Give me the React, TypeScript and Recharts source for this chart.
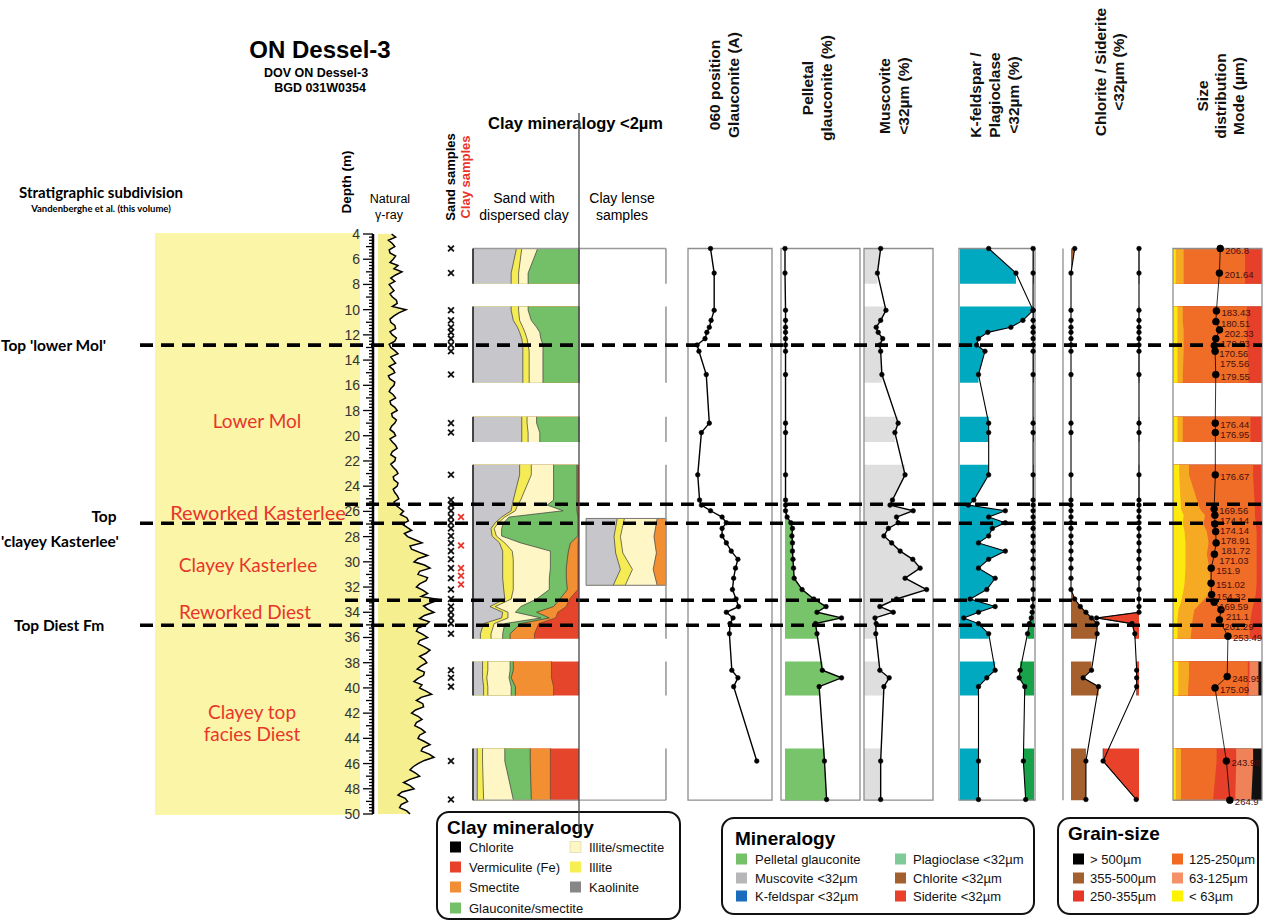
import React from 'react';
import { ComposedChart, Area, Line, XAxis, YAxis, ReferenceLine, ReferenceArea, Scatter, LabelList } from 'recharts';

const FONT = "'Liberation Sans', Arial, Helvetica, sans-serif";
const CAL = "Lato, 'Open Sans', 'Liberation Sans', sans-serif";

// ================= DATA =================
const SEGMENTS: [number, number][] = [[5.15, 7.95], [9.75, 15.8], [18.5, 20.5], [22.3, 36.1], [37.9, 40.6], [44.8, 48.9]];
const MAJOR_TOPS = [12.81, 26.94, 35.03];
const REWORKED_TOPS = [25.43, 33.05];

const SAND_DEPTHS = [5.15, 7.1, 10.05, 10.85, 11.4, 11.8, 12.3, 12.8, 13.3, 15.15, 19.0, 19.75, 23.1, 25.1, 25.5, 25.95, 26.45, 26.9, 27.35, 27.95, 28.5, 29.15, 29.8, 30.5, 31.3, 32.2, 32.95, 33.55, 34.0, 34.45, 34.9, 35.7, 38.6, 39.2, 39.9, 45.8, 48.85];
const CLAY_SAMPLE_DEPTHS = [26.45, 28.7, 30.5, 31.1, 31.8];

// Clay mineralogy <2µm (sand with dispersed clay), cumulative %
const CUM_KAOLINITE = [41, 36, 36, 38, 42, 44, 46, 47, 47, 47, 46, 46, 44, 38, 37, 36, 27, 21, 17, 18, 25, 28, 28, 28, 28, 29, 30, 16, 28, 27, 10, 7, 9, 9, 10, 4, 4];
const CUM_ILLITE = [46, 43, 43, 44, 47, 49, 51, 52, 53, 53, 51, 52, 55, 45, 42, 40, 30, 24, 20, 22, 30, 37, 38, 38, 38, 38, 36, 21, 33, 33, 20, 17, 14, 13, 14, 9, 10];
const CUM_ILLITE_SMECTITE = [61, 52, 52, 55, 60, 63, 64, 66, 66, 66, 60, 63, 76, 76, 70, 85, 34, 29, 27, 27, 45, 73, 73, 73, 72, 72, 60, 45, 40, 64, 30, 28, 35, 34, 36, 30, 38];
const CUM_GLAUC_SMECTITE = [100, 100, 100, 100, 100, 100, 100, 100, 100, 100, 100, 100, 98, 98, 98, 98, 99, 99, 99, 99, 92, 90, 89, 88, 88, 89, 82, 76, 60, 72, 45, 35, 38, 36, 40, 54, 55];
const CUM_SMECTITE = [100, 100, 100, 100, 100, 100, 100, 100, 100, 100, 100, 100, 99, 99, 99, 99, 99.5, 99.5, 99.5, 99.5, 99, 99, 99, 99, 99, 99, 91, 88, 80, 78, 62, 58, 74, 74, 76, 73, 73];
const CUM_TOTAL = [100, 100, 100, 100, 100, 100, 100, 100, 100, 100, 100, 100, 100, 100, 100, 100, 100, 100, 100, 100, 100, 100, 100, 100, 100, 100, 100, 100, 100, 100, 100, 100, 100, 100, 100, 100, 100];

// Clay lense samples, cumulative %
const LENS_DEPTHS = [26.56, 28.0, 29.3, 30.6, 31.86];
const LENS_KAOLINITE = [39, 35, 37, 43, 34];
const LENS_ILLITE = [48, 43, 46, 58, 49];
const LENS_ILLITE_SMECTITE = [89, 85, 88, 84, 89];
const LENS_TOTAL = [100, 100, 100, 100, 100];

// 060 position glauconite (Å)
const POS_060 = [1.5130, 1.5136, 1.5136, 1.5131, 1.5128, 1.5124, 1.5121, 1.5108, 1.5111, 1.5123, 1.5128, 1.5115, 1.5109, 1.5112, 1.5115, 1.5130, 1.5149, 1.5156, 1.5149, 1.5149, 1.5156, 1.5164, 1.5175, 1.5171, 1.5168, 1.5166, 1.5172, 1.5176, 1.5156, 1.5167, 1.5162, 1.5161, 1.5165, 1.5175, 1.5168, 1.5206, null];
// Pelletal glauconite (%)
const PELLETAL = [0, 0, 0.5, 0.5, 0.5, 0.5, 0.5, 0.5, 0.5, 0.5, 0.5, 0.5, 0.5, 0.5, 0.5, 0.5, 2, 5.5, 7, 6.5, 7, 7, 7.5, 8, 8.6, 16, 27, 38.5, 30, 53, 28.6, 30, 35, 53, 32, 37, 39];
// Muscovite <32µm (%)
const MUSCOVITE = [4.1, 3.3, 5.4, 4.1, 3.0, 3.5, 4.6, 3.9, 4.1, 4.4, 8.4, 7.6, 10.1, 7.0, 6.4, 12.1, 8.0, 8.4, 6.0, 4.9, 6.8, 8.9, 12.0, 13.8, 10.1, 15.4, 8.0, 3.9, 7.2, 2.7, 3.0, 2.9, 3.9, 6.2, 4.9, 4.1, 4.1];
// K-feldspar & plagioclase <32µm (%)
const KFELDSPAR = [3.1, 6.05, 7.9, 6.8, 5.5, 3.0, 2.0, 1.8, 2.7, 2.0, 3.1, 3.1, 3.1, 1.5, 0.9, 4.9, 3.1, 4.9, 3.5, 3.1, 2.0, 4.9, 3.1, 2.0, 3.8, 2.9, 1.1, 3.8, 2.0, 0.4, 2.0, 3.1, 3.8, 2.9, 2.0, 2.0, 2.0];
const PLAGIOCLASE = [0.1, 0.1, 0.1, 0.1, 0.1, 0.1, 0.1, 0.1, 0.1, 0.1, 0.1, 0.1, 0.1, 0.1, 0.1, 0.1, 0.1, 0.1, 0.1, 0.1, 0.1, 0.1, 0.1, 0.1, 0.1, 0.1, 0.1, 0.15, 0.2, 0.3, 0.5, 0.7, 1.5, 1.6, 1.0, 1.15, 0.9];
// Chlorite & siderite <32µm (%)
const CHLORITE = [0.8, 0, 0, 0, 0, 0, 0, 0, 0, 0, 0, 0, 0, 0, 0, 0, 0, 0, 0, 0, 0, 0, 0, 0, 0, 0, 0.8, 2.0, 3.2, 4.4, 5.6, 5.6, 4.4, 2.6, 5.9, 3.2, 3.2];
const SIDERITE = [0, 0, 0, 0, 0, 0, 0, 0, 0, 0, 0, 0, 0, 0, 0, 0, 0, 0, 0, 0, 0, 0, 0, 0, 0, 0, 0, 0, 0, 9.1, 1.5, 0.9, 0.5, 0.5, 0.5, 7.7, 0.6];

// Size distribution
const SIZE_DEPTHS = [5.15, 7.1, 10.1, 10.95, 11.6, 12.3, 12.85, 13.3, 15.15, 19.0, 19.75, 23.1, 25.8, 26.3, 27.0, 27.6, 28.5, 29.4, 30.5, 31.7, 32.6, 33.2, 33.8, 34.6, 35.9, 39.1, 40.0, 45.8, 48.9];
const MODE_UM = [206.8, 201.64, 183.43, 180.51, 202.33, 179.83, 170.56, 175.56, 179.55, 176.44, 176.95, 176.67, 169.56, 174.14, 174.14, 178.91, 181.72, 171.03, 151.9, 151.02, 154.32, 169.59, 211.1, 201.29, 253.49, 248.95, 175.09, 243.98, 264.9];
const CUM_LT63 = [3, 3, 5, 5, 5, 5, 5, 5, 5, 5, 5, 7, 9, 12, 11, 13, 14, 14, 14, 13, 11, 9, 6, 5, 5, 6, 6, 3, 3];
const CUM_LT125 = [12, 12, 11, 11, 12, 12, 12, 12, 11, 11, 11, 18, 30, 36, 34, 38, 40, 38, 41, 42, 40, 32, 24, 22, 20, 18, 17, 9, 9];
const CUM_LT250 = [81, 81, 83, 83, 83, 83, 83, 84, 85, 87, 87, 90, 92, 92, 93, 94, 94, 94, 94, 94, 93, 91, 89, 87, 86, 84, 83, 49, 45];
const CUM_LT355 = [100, 100, 100, 100, 100, 100, 100, 100, 100, 100, 100, 100, 100, 100, 100, 100, 100, 100, 100, 100, 100, 100, 100, 100, 100, 86, 85, 71, 70];
const CUM_LT500 = [100, 100, 100, 100, 100, 100, 100, 100, 100, 100, 100, 100, 100, 100, 100, 100, 100, 100, 100, 100, 100, 100, 100, 100, 100, 96, 96, 90, 88];
const CUM_ALL = [100, 100, 100, 100, 100, 100, 100, 100, 100, 100, 100, 100, 100, 100, 100, 100, 100, 100, 100, 100, 100, 100, 100, 100, 100, 100, 100, 100, 100];

// Natural gamma-ray (API), every 0.25 m from 4 m to 50 m
const GAMMA_API = [
  17, 22, 13, 18, 21, 14, 15, 22,
  19, 15, 25, 20, 30, 22, 16, 21,
  14, 17, 20, 15, 18, 23, 24, 18,
  35, 26, 20, 15, 16, 21, 22, 15,
  18, 23, 21, 14, 16, 21, 25, 16,
  19, 22, 14, 19, 21, 13, 15, 21,
  20, 16, 14, 19, 22, 15, 16, 21,
  24, 17, 18, 23, 21, 17, 15, 20,
  22, 15, 18, 22, 24, 18, 16, 22,
  21, 16, 19, 23, 25, 19, 20, 25,
  24, 19, 21, 24, 26, 20, 22, 27,
  32, 28, 36, 38, 30, 36, 42, 33,
  37, 46, 55, 40, 42, 52, 62, 50,
  45, 58, 65, 52, 50, 62, 60, 52,
  48, 56, 62, 54, 77, 66, 57, 62,
  70, 58, 52, 64, 60, 50, 48, 56,
  62, 52, 50, 58, 65, 60, 52, 58,
  61, 54, 49, 58, 57, 50, 45, 55,
  52, 60, 67, 54, 48, 56, 57, 47,
  42, 50, 55, 48, 46, 54, 59, 52,
  50, 58, 65, 56, 54, 64, 70, 58,
  50, 44, 40, 47, 52, 40, 32, 40,
  45, 30, 25, 34, 37, 29, 27, 36,
  40,
];
const GAMMA_DEPTHS = GAMMA_API.map((_, i) => 4 + i * 0.25);

// Legends
const CLAY_LEGEND_LEFT = [['Chlorite', '#000000'], ['Vermiculite (Fe)', '#e8432a'], ['Smectite', '#f18d35']];
const CLAY_LEGEND_RIGHT = [['Illite/smectite', '#fff6c6'], ['Illite', '#f7ee52'], ['Kaolinite', '#878787']];
const MIN_LEGEND_LEFT = [['Pelletal glauconite', '#77c06a'], ['Muscovite <32µm', '#b7b7ba'], ['K-feldspar <32µm', '#1a6dbd']];
const MIN_LEGEND_RIGHT = [['Plagioclase <32µm', '#7fcb98'], ['Chlorite <32µm', '#a2602e'], ['Siderite <32µm', '#e8402a']];
const GRAIN_LEGEND_LEFT = [['> 500µm', '#000000'], ['355-500µm', '#a2602e'], ['250-355µm', '#e8352a']];
const GRAIN_LEGEND_RIGHT = [['125-250µm', '#f06a22'], ['63-125µm', '#f59068'], ['< 63µm', '#fff200']];

// ================= LAYOUT =================
const PAGE_W = 1264;
const PAGE_H = 922;
const PLOT_TOP = 234;
const PLOT_BOTTOM = 814;
const PX_PER_M = (PLOT_BOTTOM - PLOT_TOP) / 46;
const BOX_TOP = SEGMENTS[0][0];
const BOX_BOTTOM = SEGMENTS[SEGMENTS.length - 1][1];

type Row = { [k: string]: number | null };

function buildRows(depths: number[], series: Record<string, (number | null)[]>, segments: [number, number][]): Row[] {
  const rows: Row[] = [];
  const keys = Object.keys(series);
  let prevBottom: number | null = null;
  segments.forEach(([top, bottom]) => {
    const idx = depths.map((_, i) => i).filter((i) => depths[i] >= top - 0.02 && depths[i] <= bottom + 0.02);
    if (!idx.length) return;
    if (prevBottom !== null) {
      const gap: Row = { depth: (prevBottom + top) / 2 };
      keys.forEach((k) => { gap[k] = null; gap['e_' + k] = null; });
      rows.push(gap);
    }
    const edge = (d: number, i: number) => {
      const r: Row = { depth: d };
      keys.forEach((k) => { r[k] = null; r['e_' + k] = series[k][i]; });
      return r;
    };
    if (depths[idx[0]] > top + 0.02) rows.push(edge(top, idx[0]));
    idx.forEach((i) => {
      const r: Row = { depth: depths[i] };
      keys.forEach((k) => { r[k] = series[k][i]; r['e_' + k] = series[k][i]; });
      rows.push(r);
    });
    const last = idx[idx.length - 1];
    if (depths[last] < bottom - 0.02) rows.push(edge(bottom, last));
    prevBottom = bottom;
  });
  return rows;
}

const clayRows = buildRows(SAND_DEPTHS, { k: CUM_KAOLINITE, i: CUM_ILLITE, is: CUM_ILLITE_SMECTITE, gs: CUM_GLAUC_SMECTITE, sm: CUM_SMECTITE, t: CUM_TOTAL }, SEGMENTS);
const lensRows = buildRows(LENS_DEPTHS, { k: LENS_KAOLINITE, i: LENS_ILLITE, is: LENS_ILLITE_SMECTITE, t: LENS_TOTAL }, [[LENS_DEPTHS[0], LENS_DEPTHS[LENS_DEPTHS.length - 1]]]);
const mineralRows = buildRows(SAND_DEPTHS, { pos: POS_060, pel: PELLETAL, mus: MUSCOVITE, kf: KFELDSPAR, pl: PLAGIOCLASE, ch: CHLORITE, sd: SIDERITE }, SEGMENTS);
const sizeRows = buildRows(SIZE_DEPTHS, { mode: MODE_UM, c63: CUM_LT63, c125: CUM_LT125, c250: CUM_LT250, c355: CUM_LT355, c500: CUM_LT500, all: CUM_ALL }, SEGMENTS);
const gammaRows = GAMMA_DEPTHS.map((d, i) => ({ depth: d, g: GAMMA_API[i] }));
const sandMarks = SAND_DEPTHS.map((d) => ({ set: 1, depth: d }));
const clayMarks = CLAY_SAMPLE_DEPTHS.map((d) => ({ set: 2, depth: d }));
const DEPTH_TICKS = Array.from({ length: 185 }, (_, i) => 4 + i * 0.25);

// label placement for the mode values: stacked downwards (per segment) so that they do not collide
const LABEL_PLACES: { depth: number; value: number; shift: number }[] = (() => {
  const out: { depth: number; value: number; shift: number }[] = [];
  SEGMENTS.forEach(([top, bottom]) => {
    let prev = -Infinity;
    SIZE_DEPTHS.forEach((d, i) => {
      if (d < top - 0.02 || d > bottom + 0.02) return;
      const py = PLOT_TOP + (d - 4) * PX_PER_M;
      const ly = Math.max(py + 1.5, prev + 10);
      out.push({ depth: d, value: MODE_UM[i], shift: ly - py });
      prev = ly;
    });
  });
  return out;
})();

// ================= HELPERS =================
const dotStyle = { r: 2.3, fill: '#000', stroke: '#000', strokeWidth: 0.6 };

// In a vertical layout the depth axis already runs top -> bottom
function Panel({ left, width, rows, children }: any) {
  const pad = 4;
  return (
    <div style={{ position: 'absolute', left: left - pad, top: 0 }}>
      <ComposedChart layout="vertical" width={width + 2 * pad} height={PAGE_H} data={rows}
        margin={{ top: PLOT_TOP, bottom: PAGE_H - PLOT_BOTTOM, left: pad, right: pad }}>
        <YAxis type="number" dataKey="depth" domain={[4, 50]} hide />
        {children}
      </ComposedChart>
    </div>
  );
}

function fillArea(id: string, key: string, color: string, stroke: string = 'none', sw = 0.7) {
  return (
    <Area key={key + color} xAxisId={id} dataKey={key} type="linear" fill={color} fillOpacity={1}
      stroke={stroke} strokeWidth={sw} dot={false} activeDot={false} isAnimationActive={false} />
  );
}

function pointLine(id: string, key: string, sw = 1.4, dot: any = dotStyle) {
  return (
    <Line key={key} xAxisId={id} dataKey={key} type="linear" stroke="#000" strokeWidth={sw}
      dot={dot} activeDot={false} isAnimationActive={false} />
  );
}

function boxOutline(id: string, x1: number, x2: number) {
  return <ReferenceArea xAxisId={id} x1={x1} x2={x2} y1={BOX_TOP} y2={BOX_BOTTOM} fill="none" fillOpacity={0} stroke="#8e8e8e" strokeWidth={1.3} ifOverflow="visible" />;
}

function ScaleBar({ left, width, domain, ticks, isMajor, rotated, majorLen = 17, minorLen = 8 }: any) {
  const pad = 8;
  const H = 52;
  const tick = (p: any) => {
    const { x, y, payload } = p;
    const major = isMajor(payload.value);
    const len = major ? majorLen : minorLen;
    const label = String(payload.value);
    return (
      <g>
        <line x1={x} x2={x} y1={y} y2={y - len} stroke="#555" strokeWidth={1} />
        {major && !rotated && (
          <text x={x} y={y - 28} textAnchor="middle" fontSize={11.5} fill="#444" fontFamily={FONT}>{label}</text>
        )}
        {major && rotated && (
          <text transform={`translate(${x},${y - 32}) rotate(-90)`} textAnchor="middle" dominantBaseline="central" fontSize={10.5} fill="#444" fontFamily={FONT}>{label}</text>
        )}
      </g>
    );
  };
  return (
    <div style={{ position: 'absolute', left: left - pad, top: 210 - (H - 4) }}>
      <ComposedChart width={width + 2 * pad} height={H} data={[{ v: domain[0] }, { v: domain[1] }]} margin={{ top: 0, bottom: 4, left: pad, right: pad }}>
        <YAxis hide type="number" domain={[0, 1]} allowDataOverflow />
        <XAxis type="number" dataKey="v" domain={domain} ticks={ticks} interval={0} height={0} tickSize={0} tickMargin={0}
          allowDataOverflow axisLine={{ stroke: '#555', strokeWidth: 1 }} tickLine={false} tick={tick} />
      </ComposedChart>
    </div>
  );
}

function DepthTick(p: any) {
  const { x, y, payload } = p;
  const v = payload.value;
  const even = Math.abs(v % 2) < 1e-6;
  const whole = Math.abs(v % 1) < 1e-6;
  const len = even ? 10 : whole ? 7 : 4;
  return (
    <g>
      <line x1={x} x2={x - len} y1={y} y2={y} stroke="#000" strokeWidth={1.3} />
      {even && <text x={x - 13} y={y + 5} textAnchor="end" fontSize={14} fill="#333" fontFamily={FONT}>{v}</text>}
    </g>
  );
}

const crossShape = (color: string) => (p: any) => {
  const { cx, cy } = p;
  const s = 2.9;
  return (
    <g stroke={color} strokeWidth={1.8}>
      <line x1={cx - s} y1={cy - s} x2={cx + s} y2={cy + s} />
      <line x1={cx - s} y1={cy + s} x2={cx + s} y2={cy - s} />
    </g>
  );
};

function RotBlock({ xs, cy, lines, size = 15.5 }: any) {
  return (
    <>
      {lines.map((t: string, i: number) => (
        <text key={i} transform={`translate(${xs[i]},${cy}) rotate(-90)`} textAnchor="middle" dominantBaseline="central"
          fontSize={size} fontWeight="bold" fontFamily={FONT} fill="#111">{t}</text>
      ))}
    </>
  );
}

function LegendItems({ items, sx, tx, rows }: any) {
  return (
    <>
      {items.map(([name, color]: string[], i: number) => (
        <g key={name}>
          <rect x={sx} y={rows[i] - 5.5} width={11} height={11} fill={color} stroke={color === '#fff6c6' ? '#d8d0a0' : 'none'} strokeWidth={0.6} />
          <text x={tx} y={rows[i] + 5} fontSize={13} fontFamily={FONT} fill="#111">{name}</text>
        </g>
      ))}
    </>
  );
}

const modeLabel = (p: any) => {
  if (p.value == null || p.x == null || p.y == null) return null;
  const d = 4 + (p.y - PLOT_TOP) / PX_PER_M;
  let best = null as null | { depth: number; value: number; shift: number };
  LABEL_PLACES.forEach((e) => {
    if (e.value === p.value && (best == null || Math.abs(e.depth - d) < Math.abs(best.depth - d))) best = e;
  });
  const shift = best ? best.shift : 1.5;
  return (
    <text x={p.x + 5} y={p.y + shift + 3.5} fontSize={9.5} fill="#4a0e0e" fontFamily={FONT}>{String(p.value)}</text>
  );
};

// ================= APP =================
export default function App() {
  const redTxt = '#e8352a';
  return (
    <div style={{ position: 'absolute', left: 0, top: 0, width: PAGE_W, height: PAGE_H, background: '#fff', overflow: 'hidden', fontFamily: FONT }}>
      {/* background text & stratigraphy */}
      <svg width={PAGE_W} height={PAGE_H} style={{ position: 'absolute', left: 0, top: 0 }}>
        <rect x={155} y={233} width={205} height={582} fill="#fbf5a8" />
        <text x={320} y={58} textAnchor="middle" fontSize={24} fontWeight="bold" fontFamily={FONT}>ON Dessel-3</text>
        <text x={316} y={77} textAnchor="middle" fontSize={12.5} fontWeight="bold" fontFamily={FONT}>DOV ON Dessel-3</text>
        <text x={320} y={92} textAnchor="middle" fontSize={12.5} fontWeight="bold" fontFamily={FONT}>BGD 031W0354</text>
        <text x={101} y={198} textAnchor="middle" fontSize={15} fontWeight="bold" fontFamily={CAL}>Stratigraphic subdivision</text>
        <text x={101} y={212} textAnchor="middle" fontSize={9.5} fontWeight="bold" fontFamily={CAL}>Vandenberghe et al. (this volume)</text>
        <text transform="translate(346,182) rotate(-90)" textAnchor="middle" dominantBaseline="central" fontSize={13.5} fontWeight="bold" fontFamily={FONT}>Depth (m)</text>
        <text x={390} y={203} textAnchor="middle" fontSize={12.5} fontFamily={FONT}>Natural</text>
        <text x={389} y={219} textAnchor="middle" fontSize={12.5} fontFamily={FONT}>γ-ray</text>
        <text transform="translate(450,177) rotate(-90)" textAnchor="middle" dominantBaseline="central" fontSize={13} fontWeight="bold" fontFamily={FONT}>Sand samples</text>
        <text transform="translate(465,177) rotate(-90)" textAnchor="middle" dominantBaseline="central" fontSize={13} fontWeight="bold" fontFamily={FONT} fill={redTxt}>Clay samples</text>
        <text x={488} y={129} fontSize={16.5} fontWeight="bold" fontFamily={FONT}>Clay mineralogy &lt;2µm</text>
        <text x={524} y={203} textAnchor="middle" fontSize={14} fontFamily={FONT}>Sand with</text>
        <text x={524} y={220} textAnchor="middle" fontSize={14} fontFamily={FONT}>dispersed clay</text>
        <text x={622} y={203} textAnchor="middle" fontSize={14} fontFamily={FONT}>Clay lense</text>
        <text x={622} y={220} textAnchor="middle" fontSize={14} fontFamily={FONT}>samples</text>
        <RotBlock xs={[714, 733]} cy={85} lines={['060 position', 'Glauconite (A)']} />
        <RotBlock xs={[807, 826]} cy={88} lines={['Pelletal', 'glauconite (%)']} />
        <RotBlock xs={[884, 903]} cy={96} lines={['Muscovite', '<32µm (%)']} />
        <RotBlock xs={[975, 994, 1013]} cy={95} lines={['K-feldspar /', 'Plagioclase', '<32µm (%)']} />
        <RotBlock xs={[1100, 1118]} cy={72} lines={['Chlorite / Siderite', '<32µm (%)']} />
        <RotBlock xs={[1202, 1220, 1238]} cy={96} lines={['Size', 'distribution', 'Mode (µm)']} />
        {/* left labels */}
        <text x={1} y={351} fontSize={15.5} fontWeight="bold" fontFamily={CAL}>Top 'lower Mol'</text>
        <text x={104} y={522} textAnchor="middle" fontSize={15.5} fontWeight="bold" fontFamily={CAL}>Top</text>
        <text x={1} y={547} fontSize={15.5} fontWeight="bold" fontFamily={CAL}>'clayey Kasterlee'</text>
        <text x={14} y={631} fontSize={15.5} fontWeight="bold" fontFamily={CAL}>Top Diest Fm</text>
        {/* red unit labels */}
        <text x={257} y={428} textAnchor="middle" fontSize={19} fontFamily={CAL} fill={redTxt}>Lower Mol</text>
        <text x={258} y={520} textAnchor="middle" fontSize={20} fontFamily={CAL} fill={redTxt}>Reworked Kasterlee</text>
        <text x={248} y={572} textAnchor="middle" fontSize={19} fontFamily={CAL} fill={redTxt}>Clayey Kasterlee</text>
        <text x={245} y={619} textAnchor="middle" fontSize={19} fontFamily={CAL} fill={redTxt}>Reworked Diest</text>
        <text x={252} y={719} textAnchor="middle" fontSize={19} fontFamily={CAL} fill={redTxt}>Clayey top</text>
        <text x={252} y={741} textAnchor="middle" fontSize={19} fontFamily={CAL} fill={redTxt}>facies Diest</text>
        {/* legends */}
        <rect x={437} y={812} width={243} height={107} rx={12} fill="#fff" stroke="#111" strokeWidth={2} />
        <text x={447} y={834} fontSize={19} fontWeight="bold" fontFamily={FONT}>Clay mineralogy</text>
        <LegendItems items={CLAY_LEGEND_LEFT} sx={450} tx={469} rows={[847, 867, 887]} />
        <LegendItems items={CLAY_LEGEND_RIGHT} sx={570} tx={589} rows={[847, 867, 887]} />
        <LegendItems items={[['Glauconite/smectite', '#77c06a']]} sx={450} tx={469} rows={[908]} />
        <rect x={722} y={818} width={312} height={96} rx={12} fill="#fff" stroke="#111" strokeWidth={2} />
        <text x={735} y={845} fontSize={19} fontWeight="bold" fontFamily={FONT}>Mineralogy</text>
        <LegendItems items={MIN_LEGEND_LEFT} sx={736} tx={755} rows={[859, 878, 896]} />
        <LegendItems items={MIN_LEGEND_RIGHT} sx={895} tx={913} rows={[859, 878, 896]} />
        <rect x={1058} y={818} width={200} height={96} rx={12} fill="#fff" stroke="#111" strokeWidth={2} />
        <text x={1068} y={840} fontSize={19} fontWeight="bold" fontFamily={FONT}>Grain-size</text>
        <LegendItems items={GRAIN_LEGEND_LEFT} sx={1073} tx={1090} rows={[859, 878, 896]} />
        <LegendItems items={GRAIN_LEGEND_RIGHT} sx={1172} tx={1189} rows={[859, 878, 896]} />
      </svg>

      {/* Depth axis + gamma ray */}
      <div style={{ position: 'absolute', left: 330, top: 0 }}>
        <ComposedChart layout="vertical" width={128} height={PAGE_H} data={gammaRows}
          margin={{ top: PLOT_TOP, bottom: PAGE_H - PLOT_BOTTOM, left: 0, right: 0 }}>
          <YAxis type="number" dataKey="depth" domain={[4, 50]} width={43} ticks={DEPTH_TICKS} interval={0}
            tickSize={0} tickMargin={0} tickLine={false} tick={DepthTick} axisLine={{ stroke: '#000', strokeWidth: 2.5 }} />
          <XAxis xAxisId="g" type="number" domain={[-6.25, 100]} hide />
          <Area xAxisId="g" dataKey="g" type="linear" fill="#f6ef8f" fillOpacity={1} stroke="none" dot={false} activeDot={false} isAnimationActive={false} />
          <Line xAxisId="g" dataKey="g" type="linear" stroke="#000" strokeWidth={1.5} dot={false} activeDot={false} isAnimationActive={false} />
        </ComposedChart>
      </div>

      {/* Sample marks */}
      <div style={{ position: 'absolute', left: 441, top: 0 }}>
        <ComposedChart width={30} height={PAGE_H} margin={{ top: PLOT_TOP, bottom: PAGE_H - PLOT_BOTTOM, left: 0, right: 0 }}>
          <XAxis type="number" dataKey="set" domain={[0, 3]} hide />
          <YAxis type="number" dataKey="depth" domain={[4, 50]} reversed hide />
          <Scatter data={sandMarks} shape={crossShape('#111')} isAnimationActive={false} />
          <Scatter data={clayMarks} shape={crossShape('#e8352a')} isAnimationActive={false} />
        </ComposedChart>
      </div>

      {/* Clay mineralogy: sand with dispersed clay */}
      <Panel left={473} width={106} rows={clayRows}>
        <XAxis xAxisId="c" type="number" domain={[0, 100]} hide />
        {fillArea('c', 'e_t', '#e5452b')}
        {fillArea('c', 'e_sm', '#f28f33', '#5b3b2b', 0.6)}
        {fillArea('c', 'e_gs', '#74c069', '#3a3a3a', 0.7)}
        {fillArea('c', 'e_is', '#fff6c6', '#3a3a3a', 0.7)}
        {fillArea('c', 'e_i', '#f4eb55', '#3a3a3a', 0.7)}
        {fillArea('c', 'e_k', '#c7c7cb', '#3a3a3a', 0.7)}
        <ReferenceLine xAxisId="c" y={BOX_TOP} stroke="#9a9a9a" strokeWidth={1.3} />
        <ReferenceLine xAxisId="c" y={BOX_BOTTOM} stroke="#9a9a9a" strokeWidth={1.3} />
        {SEGMENTS.map(([a, b]) => (
          <ReferenceLine key={'l' + a} xAxisId="c" segment={[{ x: 0, y: a }, { x: 0, y: b }]} stroke="#333" strokeWidth={1.8} />
        ))}
      </Panel>

      {/* Clay lense samples */}
      <Panel left={579} width={88} rows={lensRows}>
        <XAxis xAxisId="l" type="number" domain={[-8.86, 101.3]} hide />
        {fillArea('l', 'e_t', '#f28f33')}
        {fillArea('l', 'e_is', '#fff6c6', '#3a3a3a', 0.7)}
        {fillArea('l', 'e_i', '#f4eb55', '#3a3a3a', 0.7)}
        {fillArea('l', 'e_k', '#c7c7cb', '#3a3a3a', 0.7)}
        <ReferenceArea xAxisId="l" x1={0} x2={100} y1={LENS_DEPTHS[0]} y2={LENS_DEPTHS[LENS_DEPTHS.length - 1]} fill="none" fillOpacity={0} stroke="#777" strokeWidth={1} />
        <ReferenceLine xAxisId="l" stroke="#9a9a9a" strokeWidth={1.3} segment={[{ x: -8.86, y: BOX_TOP }, { x: 100, y: BOX_TOP }]} />
        <ReferenceLine xAxisId="l" stroke="#9a9a9a" strokeWidth={1.3} segment={[{ x: -8.86, y: BOX_BOTTOM }, { x: 100, y: BOX_BOTTOM }]} />
        {SEGMENTS.map(([a, b]) => (
          <ReferenceLine key={'r' + a} xAxisId="l" segment={[{ x: 100, y: a }, { x: 100, y: b }]} stroke="#9a9a9a" strokeWidth={1.6} />
        ))}
      </Panel>

      {/* 060 position */}
      <Panel left={688} width={84} rows={mineralRows}>
        <XAxis xAxisId="p" type="number" domain={[1.5093, 1.5231]} hide />
        {boxOutline('p', 1.5093, 1.5231)}
        {pointLine('p', 'pos')}
      </Panel>

      {/* Pelletal glauconite */}
      <Panel left={781} width={79} rows={mineralRows}>
        <XAxis xAxisId="g" type="number" domain={[-3.75, 70.3]} hide />
        {boxOutline('g', -3.75, 70.3)}
        {fillArea('g', 'e_pel', '#77c46a')}
        {pointLine('g', 'pel')}
      </Panel>

      {/* Muscovite */}
      <Panel left={864} width={69} rows={mineralRows}>
        <XAxis xAxisId="m" type="number" domain={[0, 16.97]} hide />
        {fillArea('m', 'e_mus', '#dedede')}
        {boxOutline('m', 0, 16.97)}
        {pointLine('m', 'mus')}
      </Panel>

      {/* K-feldspar / plagioclase */}
      <Panel left={959} width={76} rows={mineralRows}>
        <XAxis xAxisId="k" type="number" domain={[-0.108, 8.108]} hide />
        <XAxis xAxisId="pl" type="number" domain={[-0.108, 8.108]} reversed hide />
        {fillArea('k', 'e_kf', '#00a9bf')}
        {fillArea('pl', 'e_pl', '#18a34a')}
        {boxOutline('k', -0.108, 8.108)}
        {pointLine('k', 'kf', 1.1)}
        {pointLine('pl', 'pl', 1.1)}
      </Panel>

      {/* Chlorite / siderite */}
      <Panel left={1063} width={78} rows={mineralRows}>
        <XAxis xAxisId="ch" type="number" domain={[-1.714, 15]} hide />
        <XAxis xAxisId="sd" type="number" domain={[-0.43, 16.29]} reversed hide />
        {fillArea('ch', 'e_ch', '#a5602e')}
        {fillArea('sd', 'e_sd', '#e8432a', '#222', 0.6)}
        <ReferenceLine xAxisId="ch" segment={[{ x: -1.714, y: BOX_TOP }, { x: -1.714, y: BOX_BOTTOM }]} stroke="#8e8e8e" strokeWidth={1.3} />
        {pointLine('ch', 'ch', 1.1)}
        {pointLine('sd', 'sd', 1.1)}
      </Panel>

      {/* Size distribution */}
      <Panel left={1173} width={89} rows={sizeRows}>
        <XAxis xAxisId="b" type="number" domain={[0, 100]} hide />
        <XAxis xAxisId="md" type="number" domain={[-80, 460]} hide />
        {fillArea('b', 'e_all', '#111111')}
        {fillArea('b', 'e_c500', '#ef8257')}
        {fillArea('b', 'e_c355', '#e6402b')}
        {fillArea('b', 'e_c250', '#ef6d27')}
        {fillArea('b', 'e_c125', '#f6a923')}
        {fillArea('b', 'e_c63', '#fde910')}
        {boxOutline('b', 0, 100)}
        <Line xAxisId="md" dataKey="mode" type="linear" stroke="#000" strokeWidth={0.8}
          dot={{ r: 3.4, fill: '#000', stroke: '#000' }} activeDot={false} isAnimationActive={false}>
          <LabelList dataKey="mode" content={modeLabel} />
        </Line>
      </Panel>

      {/* Scale bars */}
      <ScaleBar left={692} width={61} domain={[1.51, 1.52]} ticks={[1.51, 1.515, 1.52]} isMajor={() => true} majorLen={13}
        rotated={false} />
      <ScaleBar left={785} width={64} domain={[0, 60]} ticks={Array.from({ length: 16 }, (_, i) => i * 4)} isMajor={(v: number) => v % 20 === 0} rotated />
      <ScaleBar left={864} width={61} domain={[0, 15]} ticks={Array.from({ length: 16 }, (_, i) => i)} isMajor={(v: number) => v % 5 === 0} rotated={false} />
      <ScaleBar left={960} width={74} domain={[0, 8]} ticks={Array.from({ length: 17 }, (_, i) => i * 0.5)} isMajor={(v: number) => v % 2 === 0} rotated />
      <ScaleBar left={1071} width={70} domain={[0, 15]} ticks={Array.from({ length: 16 }, (_, i) => i)} isMajor={(v: number) => v % 5 === 0} rotated />

      {/* Formation tops (dashed) */}
      <div style={{ position: 'absolute', left: 140, top: 0 }}>
        <ComposedChart width={1122} height={PAGE_H} data={[{ x: 0, depth: 4 }, { x: 1, depth: 50 }]}
          margin={{ top: PLOT_TOP, bottom: PAGE_H - PLOT_BOTTOM, left: 0, right: 0 }}>
          <XAxis type="number" dataKey="x" domain={[0, 1]} hide allowDataOverflow />
          <YAxis type="number" dataKey="depth" domain={[4, 50]} reversed hide allowDataOverflow />
          {MAJOR_TOPS.map((d) => <ReferenceLine key={d} y={d} stroke="#000" strokeWidth={3.6} strokeDasharray="13 8" />)}
        </ComposedChart>
      </div>
      <div style={{ position: 'absolute', left: 345, top: 0 }}>
        <ComposedChart width={917} height={PAGE_H} data={[{ x: 0, depth: 4 }, { x: 1, depth: 50 }]}
          margin={{ top: PLOT_TOP, bottom: PAGE_H - PLOT_BOTTOM, left: 0, right: 0 }}>
          <XAxis type="number" dataKey="x" domain={[0, 1]} hide allowDataOverflow />
          <YAxis type="number" dataKey="depth" domain={[4, 50]} reversed hide allowDataOverflow />
          {REWORKED_TOPS.map((d) => <ReferenceLine key={d} y={d} stroke="#000" strokeWidth={3.6} strokeDasharray="13 8" />)}
        </ComposedChart>
      </div>

      {/* divider between sand and lens clay columns */}
      <svg width={PAGE_W} height={PAGE_H} style={{ position: 'absolute', left: 0, top: 0, pointerEvents: 'none' }}>
        <line x1={579} x2={579} y1={113} y2={832} stroke="#444" strokeWidth={1.3} />
      </svg>
    </div>
  );
}
